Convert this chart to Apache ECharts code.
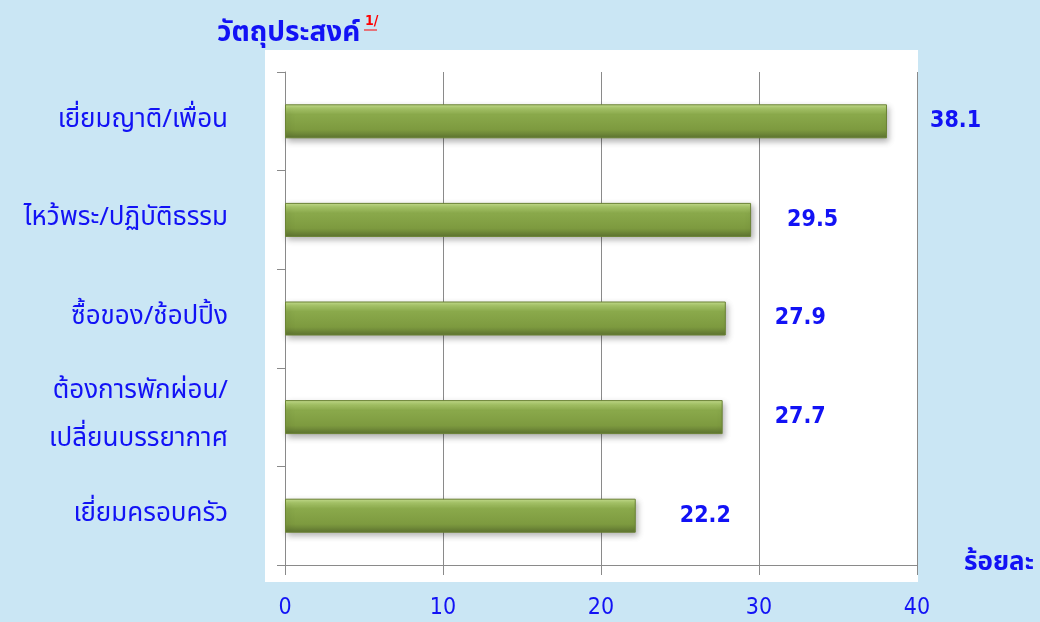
<!DOCTYPE html>
<html>
<head>
<meta charset="utf-8">
<script src="https://cdn.jsdelivr.net/npm/echarts@6/dist/echarts.min.js"></script>
<style>
  html, body { margin: 0; padding: 0; background: #cae6f4; }
  #chart { width: 1040px; height: 622px; }
</style>
</head>
<body>
<div id="chart"></div>
<script>
// ข้อมูล
const categories = ['เยี่ยมญาติ/เพื่อน', 'ไหว้พระ/ปฏิบัติธรรม', 'ซื้อของ/ช้อปปิ้ง', 'ต้องการพักผ่อน/\nเปลี่ยนบรรยากาศ', 'เยี่ยมครอบครัว'];
const values = [38.1, 29.5, 27.9, 27.7, 22.2];
const xTicks = [0, 10, 20, 30, 40];
// ระยะห่างป้ายตัวเลขจากปลายแท่ง (px)
const labelGap = [43, 36, 49, 52, 44];

const blue = '#1212f5';
const thaiFont = "'Noto Sans Thai', 'Noto Sans', 'DejaVu Sans', sans-serif";
const numFont = "'DejaVu Sans Condensed', 'DejaVu Sans', sans-serif";

const myChart = echarts.init(document.getElementById('chart'));
const option = {
  backgroundColor: '#cae6f4',
  animation: false,
  grid: {
    left: 285,
    right: 123,
    top: 72,
    bottom: 57,
  },
  graphic: [
    {
      // พื้นที่สีขาว
      type: 'rect',
      z: -10,
      shape: { x: 265, y: 50, width: 653, height: 532 },
      style: { fill: '#ffffff' },
    },
    {
      type: 'text',
      left: 217,
      top: 21,
      style: { text: 'วัตถุประสงค์', fill: blue, font: 'bold 28px ' + thaiFont },
    },
    {
      type: 'text',
      left: 365,
      top: 14,
      style: { text: '1/', fill: '#ff0000', font: 'bold 14px ' + numFont },
    },
    {
      type: 'line',
      shape: { x1: 364, y1: 30, x2: 377, y2: 30 },
      style: { stroke: '#ff0000', lineWidth: 1 },
    },
  ],
  xAxis: {
    type: 'value',
    min: xTicks[0],
    max: xTicks[xTicks.length - 1],
    interval: 10,
    name: 'ร้อยละ',
    nameLocation: 'end',
    nameGap: 47,
    nameTextStyle: { color: blue, fontSize: 26, fontWeight: 'bold', fontFamily: thaiFont, padding: [0, 0, 18, 0] },
    axisLine: { show: true, lineStyle: { color: '#8a8a8a' } },
    axisTick: { show: true, length: 10, lineStyle: { color: '#8a8a8a' } },
    splitLine: { show: true, lineStyle: { color: '#8a8a8a' } },
    axisLabel: { color: blue, fontSize: 23, fontFamily: numFont, margin: 32 },
  },
  yAxis: {
    type: 'category',
    inverse: true,
    data: categories,
    axisLine: { show: true, lineStyle: { color: '#8a8a8a' } },
    axisTick: { show: true, length: 8, lineStyle: { color: '#8a8a8a' } },
    axisLabel: { color: blue, fontSize: 26, fontFamily: thaiFont, margin: 57, lineHeight: 48, align: 'right' },
  },
  series: [
    {
      type: 'bar',
      data: values.map((v, i) => ({ value: v, label: { distance: labelGap[i] } })),
      barWidth: 34,
      itemStyle: {
        color: new echarts.graphic.LinearGradient(0, 0, 0, 1, [
          { offset: 0, color: '#c9e192' },
          { offset: 0.12, color: '#a9c86a' },
          { offset: 0.3, color: '#8aa94b' },
          { offset: 0.75, color: '#7d9a3f' },
          { offset: 1, color: '#5d7330' },
        ]),
        borderColor: '#6a8234',
        borderWidth: 1,
        shadowBlur: 6,
        shadowOffsetY: 3,
        shadowOffsetX: 2,
        shadowColor: 'rgba(0,0,0,0.3)',
      },
      label: {
        show: true,
        position: 'right',
        color: blue,
        fontSize: 23,
        fontWeight: 'bold',
        fontFamily: numFont,
      },
    },
  ],
};
option && myChart.setOption(option);
</script>
</body>
</html>
